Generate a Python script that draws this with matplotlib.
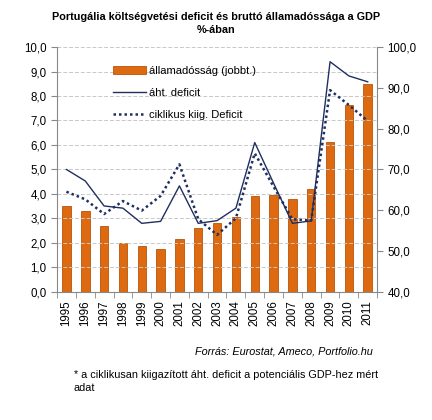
import numpy as np
import matplotlib.pyplot as plt

plt.rcParams['font.family'] = ['Liberation Sans', 'DejaVu Sans']

years = ['1995', '1996', '1997', '1998', '1999', '2000', '2001', '2002', '2003',
         '2004', '2005', '2006', '2007', '2008', '2009', '2010', '2011']
allamadossag = [61.1, 59.9, 56.2, 51.9, 51.3, 50.5, 53.0, 55.6, 56.9,
                58.4, 63.5, 63.8, 62.8, 65.2, 76.7, 85.8, 90.9]
aht_deficit = [5.0, 4.53, 3.51, 3.42, 2.80, 2.88, 4.33, 2.80, 2.91,
               3.42, 6.10, 4.44, 2.80, 2.90, 9.40, 8.82, 8.58]
ciklikus = [4.09, 3.78, 3.18, 3.71, 3.32, 3.92, 5.21, 2.97, 2.33,
            3.01, 5.66, 4.30, 2.97, 2.91, 8.24, 7.63, 6.98]

fmt = lambda v: f'{v:.1f}'.replace('.', ',')

fig = plt.figure(figsize=(4.32, 4.2), dpi=100)
ax = fig.add_axes([0.132, 0.305, 0.741, 0.583])
ax2 = ax.twinx()

x = np.arange(len(years))
bars = ax2.bar(x, np.array(allamadossag) - 40, bottom=40, width=0.45,
               color='#DD6A10', edgecolor='#B85408', linewidth=0.6,
               label='államadósság (jobbt.)')
ax2.set_ylim(40, 100)
ax2.set_yticks(np.arange(40, 101, 10))
ax2.set_yticklabels([fmt(v) for v in np.arange(40, 101, 10)])

l1, = ax.plot(x, aht_deficit, color='#1F3060', lw=1.0, label='áht. deficit')
l2, = ax.plot(x, ciklikus, color='#1F3060', lw=1.8, ls=(0, (1, 1.2)),
              label='ciklikus kiig. Deficit')
ax.set_ylim(0, 10)
ax.set_yticks(np.arange(0, 11, 1))
ax.set_yticklabels([fmt(v) for v in np.arange(0, 11, 1)])
ax.set_xlim(-0.5, len(years) - 0.5)
ax.set_xticks(x)
ax.set_xticklabels(years, rotation=90)
ax.set_xticks(np.arange(-0.5, len(years), 1), minor=True)
ax.tick_params(axis='x', which='major', length=0, pad=6)
ax.tick_params(axis='x', which='minor', length=4, color='#888888')
ax.tick_params(axis='y', length=4, color='#888888')
ax2.tick_params(axis='y', length=4, color='#888888')
ax.tick_params(labelsize=8.3)
ax2.tick_params(labelsize=8.3)

ax.grid(axis='y', color='#C8C8C8', ls=(0, (4, 2)), lw=0.7)
ax.set_axisbelow(True)
ax.set_zorder(ax2.get_zorder() + 1)
ax.patch.set_visible(False)

for a in (ax, ax2):
    a.spines['top'].set_visible(False)
    for s in ('left', 'right', 'bottom'):
        a.spines[s].set_color('#888888')
ax.spines['right'].set_visible(False)
ax2.spines['left'].set_visible(False)
ax2.spines['bottom'].set_visible(False)

ax.legend([bars, l1, l2], [b.get_label() for b in (bars, l1, l2)],
          loc='upper left', bbox_to_anchor=(0.145, 0.965), frameon=False,
          fontsize=8, handlelength=2.9, handletextpad=0.3, labelspacing=1.1)

fig.text(0.5, 0.972, 'Portugália költségvetési deficit és bruttó államadóssága a GDP\n%-ában',
         ha='center', va='top', fontsize=7.8, fontweight='bold', linespacing=1.35)
fig.text(0.864, 0.162, 'Forrás: Eurostat, Ameco, Portfolio.hu', ha='right', va='center',
         fontsize=7.8, style='italic')
fig.text(0.171, 0.092, '* a ciklikusan kiigazított áht. deficit a potenciális GDP-hez mért\nadat',
         ha='left', va='center', fontsize=7.8, linespacing=1.3)

fig.savefig('out.png', dpi=100)
